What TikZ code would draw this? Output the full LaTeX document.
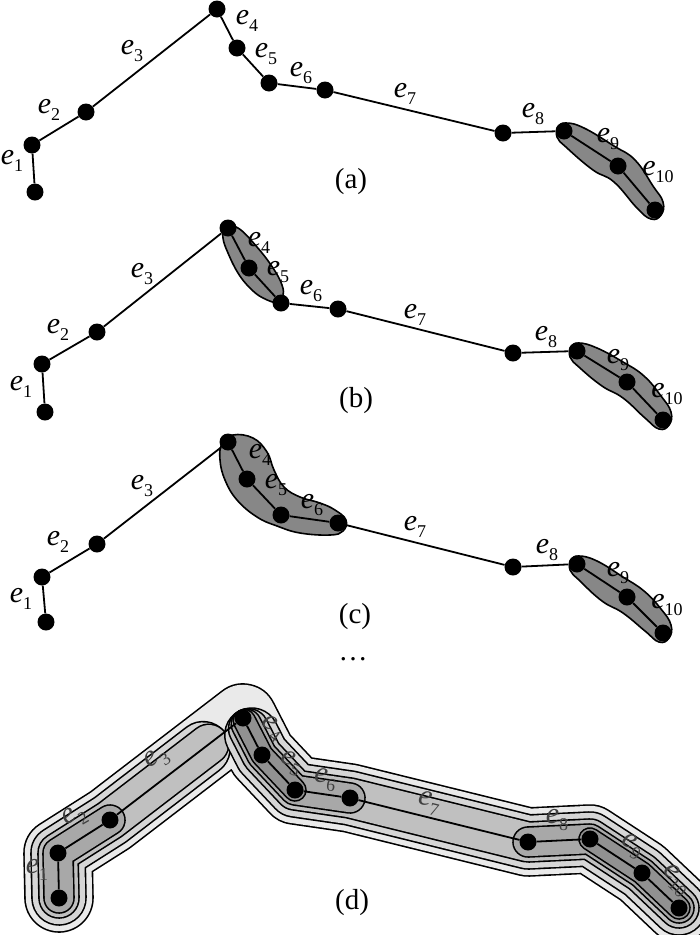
\documentclass[tikz,border=0pt]{standalone}
\usepackage{fontspec}
\setmainfont{Liberation Serif}
\usetikzlibrary{calc}
\pgfdeclarelayer{background}
\pgfsetlayers{background,main}
\definecolor{blobgray}{RGB}{135,135,135}
\definecolor{lvA}{RGB}{234,234,234}
\definecolor{lvB}{RGB}{214,214,214}
\definecolor{lvC}{RGB}{192,192,192}
\definecolor{lvD}{RGB}{168,168,168}
\definecolor{lvE}{RGB}{145,145,145}
\newcommand\elab[1]{\textit{e}\raisebox{-0.25em}{\fontsize{18}{18}\selectfont #1}}
\newcommand\sausage[3]{%
  \pgfmathsetmacro\sausW{2*#1+1.6}%
  \pgfmathsetmacro\sausF{2*#1-1.6}%
  \draw[line width=\sausW pt, line cap=round, line join=round, black] #3;
  \draw[line width=\sausF pt, line cap=round, line join=round, #2] #3;}
\newcommand\tailblob[1]{%
  \filldraw[blob] plot[smooth cycle, tension=0.75] coordinates {
    ($(#19)+(2,-8)$) ($(#19)+(20,-3)$) ($(#110)+(-4,-20)$) ($(#110)+(17,-6)$)
    ($(#111)+(-2,-24)$) ($(#111)+(8,-8)$) ($(#111)+(6,5)$) ($(#111)+(-4,9)$)
    ($(#111)+(-18,-2)$) ($(#110)+(-4,16)$) ($(#110)+(-25,4)$) ($(#19)+(3,17)$)
    ($(#19)+(-7,6)$) ($(#19)+(-5,-4)$)};}
\begin{document}
\begin{tikzpicture}[x=1pt,y=-1pt,
  dot/.style={circle,fill=black,inner sep=0pt,minimum size=17pt},
  edge/.style={line width=1.8pt},
  blob/.style={fill=blobgray,draw=black,line width=1.6pt},
  lab/.style={font=\fontsize{30}{30}\selectfont,inner sep=0pt},
  dlab/.style={lab,text=black!75},
  captxt/.style={font=\fontsize{29}{29}\selectfont,inner sep=0pt}]
\useasboundingbox (0,0) rectangle (700,935);

% ---------- nodes ----------
\foreach \i/\x/\y in {1/35/192,2/32/145,3/86/112,4/217/9,5/237/48,6/269/83,7/325/90,8/503/133,9/564/131,10/618/166,11/655/210}
  \node[dot] (a\i) at (\x,\y) {};
\foreach \i/\x/\y in {1/45/412,2/42/364,3/97/332,4/228/228,5/249/268,6/281/303,7/338/309,8/513/353,9/577/351,10/627/382,11/663/420}
  \node[dot] (b\i) at (\x,\y) {};
\foreach \i/\x/\y in {1/46/622,2/42/577,3/97/544,4/228/442,5/247/479,6/281/515,7/338/523,8/513/567,9/577/564,10/627/597,11/663/633}
  \node[dot] (c\i) at (\x,\y) {};
\foreach \i/\x/\y in {1/59/898,2/58/853,3/110/820,4/243/718,5/262/755,6/295/790,7/350/798,8/528/842,9/590/839,10/642/873,11/679/908}
  \node[dot] (d\i) at (\x,\y) {};

% ---------- edges ----------
\foreach \p in {a,b,c,d}
  \foreach \i [count=\j from 2] in {1,...,10}
    \draw[edge] (\p\i) -- (\p\j);

% ---------- blobs / contours ----------
\begin{pgfonlayer}{background}
  \tailblob{a}
  \tailblob{b}
  \tailblob{c}
  \filldraw[blob] plot[smooth cycle, tension=0.7] coordinates {
    (238,228) (257,247) (273,268) (282,285) (283,296) (279,303)
    (263,298) (250,288) (238,273) (228,253) (223,238) (225,228)};
  \filldraw[blob] plot[smooth cycle, tension=0.7] coordinates {
    (233,435) (253,438) (267,452) (274,470) (284,487) (300,497) (320,503)
    (335,510) (346,520) (343,531) (330,535) (300,533) (277,526) (257,517)
    (237,500) (225,480) (220,460) (222,444)};
  % panel (d)
  \sausage{34}{lvA}{(d1.center) -- (d2.center) -- (d3.center) -- (d4.center) -- (d5.center) -- (d6.center) -- (d7.center) -- (d8.center) -- (d9.center) -- (d10.center) -- (d11.center)}
  \sausage{27}{lvB}{(d1.center) -- (d2.center) -- (d3.center) -- ($(d3)!0.70!(d4)$)}
  \sausage{20}{lvC}{(d1.center) -- (d2.center) -- (d3.center) -- ($(d3)!0.743!(d4)$)}
  \sausage{15}{lvD}{(d1.center) -- (d2.center) -- (d3.center)}
  \sausage{27}{lvB}{($(d4)!0.46!(d5)$) -- (d5.center) -- (d6.center) -- (d7.center) -- (d8.center) -- (d9.center) -- (d10.center) -- (d11.center)}
  \sausage{20}{lvC}{($(d4)!0.29!(d5)$) -- (d5.center) -- (d6.center) -- (d7.center) -- (d8.center) -- (d9.center) -- (d10.center) -- (d11.center)}
  \sausage{15}{lvD}{($(d4)!0.17!(d5)$) -- (d5.center) -- (d6.center) -- (d7.center)}
  \sausage{15}{lvD}{(d8.center) -- (d9.center) -- (d10.center) -- (d11.center)}
  \sausage{11}{lvE}{($(d4)!0.07!(d5)$) -- (d5.center) -- (d6.center)}
  \sausage{11}{lvE}{(d9.center) -- (d10.center) -- (d11.center)}
\end{pgfonlayer}

% ---------- labels ----------
\node[lab] (la1) at (12,161) {\elab{1}};
\node[lab] (la2) at (49,110) {\elab{2}};
\node[lab] (la3) at (132,51) {\elab{3}};
\node[lab] (la4) at (247,21) {\elab{4}};
\node[lab] (la5) at (266,54) {\elab{5}};
\node[lab] (la6) at (301,73) {\elab{6}};
\node[lab] (la7) at (405,94) {\elab{7}};
\node[lab] (la8) at (533,114) {\elab{8}};
\node[lab] (la9) at (608,139) {\elab{9}};
\node[lab] (la10) at (658,172) {\elab{10}};

\node[lab] (lb1) at (21,387) {\elab{1}};
\node[lab] (lb2) at (58,330) {\elab{2}};
\node[lab] (lb3) at (142,274) {\elab{3}};
\node[lab] (lb4) at (259,243) {\elab{4}};
\node[lab] (lb5) at (278,272) {\elab{5}};
\node[lab] (lb6) at (311,291) {\elab{6}};
\node[lab] (lb7) at (415,315) {\elab{7}};
\node[lab] (lb8) at (546,337) {\elab{8}};
\node[lab] (lb9) at (618,360) {\elab{9}};
\node[lab] (lb10) at (667,394) {\elab{10}};

\node[lab] (lc1) at (21,599) {\elab{1}};
\node[lab] (lc2) at (58,542) {\elab{2}};
\node[lab] (lc3) at (142,486) {\elab{3}};
\node[lab] (lc4) at (260,455) {\elab{4}};
\node[lab] (lc5) at (276,485) {\elab{5}};
\node[lab] (lc6) at (312,505) {\elab{6}};
\node[lab] (lc7) at (415,527) {\elab{7}};
\node[lab] (lc8) at (547,550) {\elab{8}};
\node[lab] (lc9) at (618,573) {\elab{9}};
\node[lab] (lc10) at (667,605) {\elab{10}};

\node[dlab] (ld1) at (37,870) {\elab{1}};
\node[dlab,rotate=30] (ld2) at (75,817) {\elab{2}};
\node[dlab,rotate=35] (ld3) at (157,759) {\elab{3}};
\node[dlab,rotate=-35] (ld4) at (272,728) {\elab{4}};
\node[dlab,rotate=-25] (ld5) at (291,763) {\elab{5}};
\node[dlab,rotate=-8] (ld6) at (325,780) {\elab{6}};
\node[dlab,rotate=-14] (ld7) at (429,803) {\elab{7}};
\node[dlab] (ld8) at (557,820) {\elab{8}};
\node[dlab,rotate=-30] (ld9) at (632,846) {\elab{9}};
\node[dlab,rotate=-45] (ld10) at (676,880) {\elab{10}};

% ---------- captions ----------
\node[captxt] (capa) at (351,182) {(a)};
\node[captxt] (capb) at (356,401) {(b)};
\node[captxt] (capc) at (355,617) {(c)};
\node[captxt] (capdots) at (353,659) {…};
\node[captxt] (capd) at (352,903) {(d)};
\end{tikzpicture}
\end{document}
